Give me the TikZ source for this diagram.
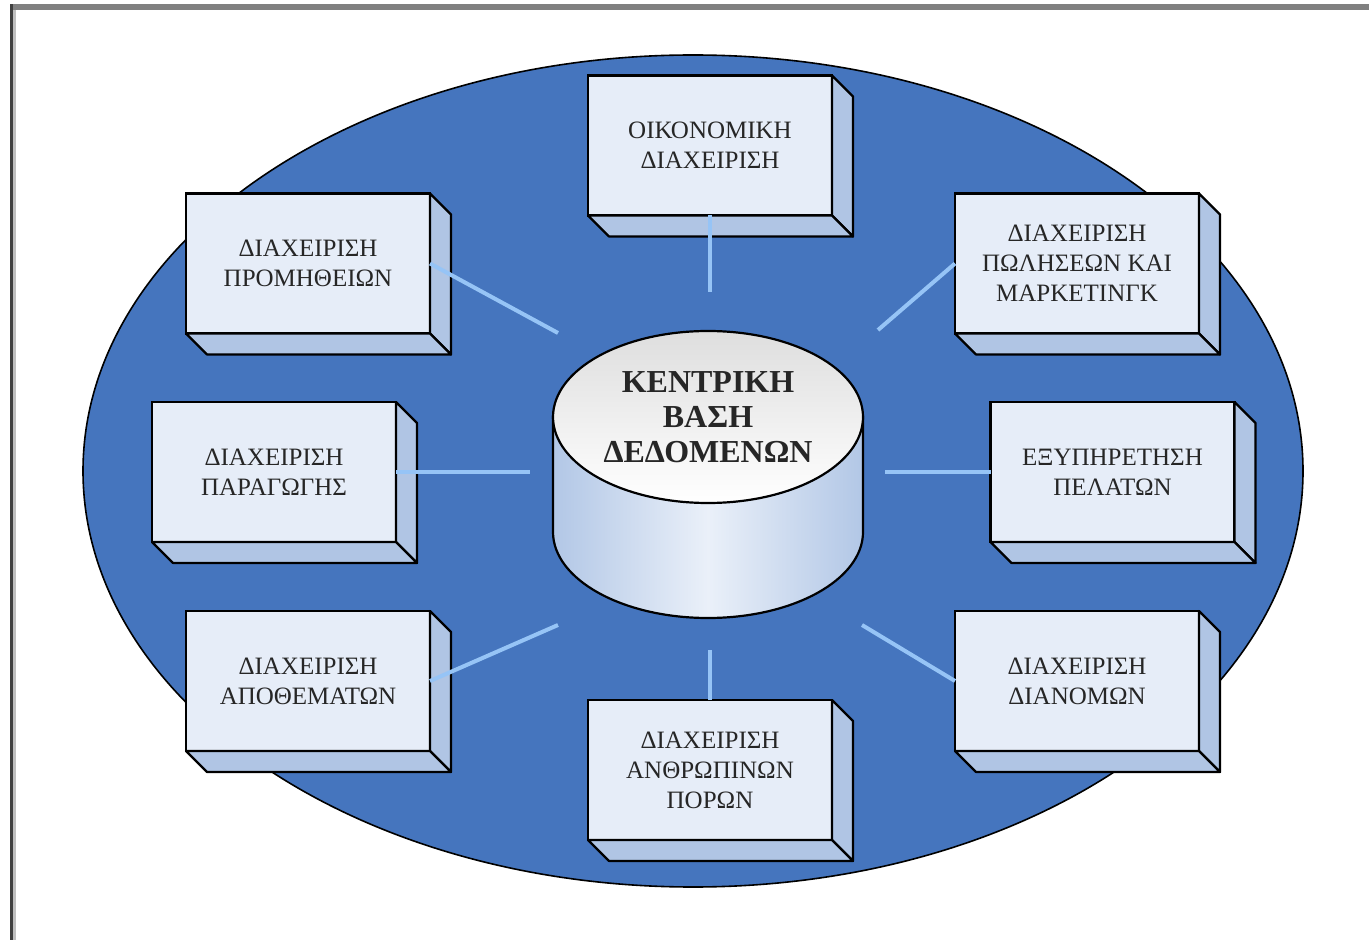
\documentclass[tikz,border=0pt]{standalone}
\usepackage{fontspec}
\setmainfont{Liberation Serif}
\usetikzlibrary{calc}

\definecolor{oval}{RGB}{69,117,190}
\definecolor{facefront}{RGB}{230,237,248}
\definecolor{faceside}{RGB}{176,197,228}
\definecolor{linkblue}{RGB}{150,196,246}
\definecolor{cylside}{RGB}{178,199,230}
\definecolor{cylmid}{RGB}{234,240,249}
\definecolor{cyltop}{RGB}{222,222,222}
\definecolor{framegray}{RGB}{128,128,128}

\begin{document}
\begin{tikzpicture}[x=0.5pt, y=-0.5pt,
    module/.style={draw=black, line width=1.1pt, fill=facefront,
        inner sep=0pt, outer sep=0pt, minimum width=122pt,
        minimum height=70pt, align=center, text=black!85,
        font=\fontsize{12.5}{15}\selectfont},
    depthface/.style={draw=black, line width=1.1pt, fill=faceside,
        line join=round},
    link/.style={draw=linkblue, line width=2pt}]
    \useasboundingbox (0,0) rectangle (1369,940);
    % page frame
    \fill[framegray] (10,4) rectangle (1369,10);
    \fill[black!75] (10,4) rectangle (13,940);
    \fill[black!25] (13,10) rectangle (16,940);
    % blue oval
    \filldraw[fill=oval, draw=black, line width=0.8pt]
        (693,471) ellipse [x radius=305pt, y radius=208pt];
    % central database
    \draw[left color=cylside, right color=cylside, middle color=cylmid,
        line width=1.1pt] (553,417) -- (553,532)
        arc[start angle=180, end angle=360, x radius=77.5pt, y radius=43pt]
        -- (863,417) -- cycle;
    \draw[top color=cyltop, bottom color=white, line width=1.1pt]
        (708,417) ellipse [x radius=77.5pt, y radius=43pt];
    \node[font=\fontsize{16}{17.5}\selectfont\bfseries, align=center,
        text=black!85] (db) at (708,417) {ΚΕΝΤΡΙΚΗ\\ΒΑΣΗ\\ΔΕΔΟΜΕΝΩΝ};
    % modules
    \node[module] (fin) at (710,145.5) {ΟΙΚΟΝΟΜΙΚΗ\\ΔΙΑΧΕΙΡΙΣΗ};
    \node[module] (pro) at (308,263.5) {ΔΙΑΧΕΙΡΙΣΗ\\ΠΡΟΜΗΘΕΙΩΝ};
    \node[module] (sal) at (1077,263.5)
        {ΔΙΑΧΕΙΡΙΣΗ\\ΠΩΛΗΣΕΩΝ ΚΑΙ\\ΜΑΡΚΕΤΙΝΓΚ};
    \node[module] (prd) at (274,472) {ΔΙΑΧΕΙΡΙΣΗ\\ΠΑΡΑΓΩΓΗΣ};
    \node[module] (cus) at (1112.5,472) {ΕΞΥΠΗΡΕΤΗΣΗ\\ΠΕΛΑΤΩΝ};
    \node[module] (inv) at (308,681) {ΔΙΑΧΕΙΡΙΣΗ\\ΑΠΟΘΕΜΑΤΩΝ};
    \node[module] (dis) at (1077,681) {ΔΙΑΧΕΙΡΙΣΗ\\ΔΙΑΝΟΜΩΝ};
    \node[module] (hrm) at (710,770)
        {ΔΙΑΧΕΙΡΙΣΗ\\ΑΝΘΡΩΠΙΝΩΝ\\ΠΟΡΩΝ};
    \foreach \b in {fin,pro,sal,prd,cus,inv,dis,hrm} {
        \filldraw[depthface] (\b.north east) -- ++(21,21)
            -- ($(\b.south east)+(21,21)$) -- (\b.south east) -- cycle;
        \filldraw[depthface] (\b.south west) -- ++(21,21)
            -- ($(\b.south east)+(21,21)$) -- (\b.south east) -- cycle;
    }
    % links to the database
    \coordinate (db-t) at (710,292);
    \coordinate (db-b) at (710,650);
    \coordinate (db-l) at (530,472);
    \coordinate (db-r) at (885,472);
    \coordinate (db-tl) at (558,333);
    \coordinate (db-tr) at (878,330);
    \coordinate (db-bl) at (558,625);
    \coordinate (db-br) at (862,625);
    \foreach \a/\c in {fin.south/db-t, hrm.north/db-b, prd.east/db-l,
        cus.west/db-r, pro.east/db-tl, sal.west/db-tr, inv.east/db-bl,
        dis.west/db-br}
        \draw[link] (\a) -- (\c);
\end{tikzpicture}
\end{document}
